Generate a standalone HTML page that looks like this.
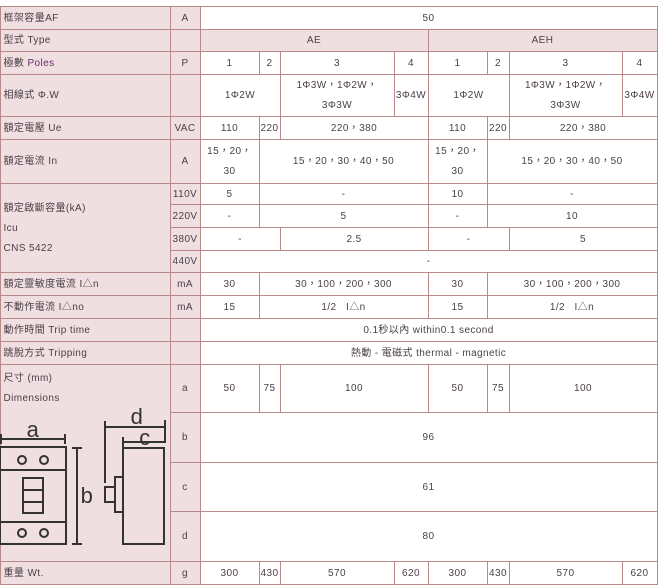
<!DOCTYPE html>
<html><head><meta charset="utf-8"><style>
body{margin:0;width:663px;height:585px;background:#fff;position:relative;overflow:hidden;font-family:"Liberation Sans","Noto Sans CJK TC",sans-serif;font-size:10px;color:#4a3f48;letter-spacing:0.4px}
.c{position:absolute;box-sizing:border-box;border:1px solid #b98989;margin:-0.5px;display:flex;align-items:center;justify-content:center;text-align:center;line-height:20px;background:#fff;padding-top:2px}
.p{background:#efdfe0}
.l{justify-content:flex-start;text-align:left;padding-left:3px}
</style></head><body>
<div id="t"></div>
<svg style="position:absolute;left:0;top:0" width="170" height="585">
<g stroke="#333" stroke-width="2" fill="none">
<line x1="1" y1="439" x2="65" y2="439"/><line x1="1" y1="434" x2="1" y2="444"/><line x1="65" y1="434" x2="65" y2="444"/>
<rect x="0" y="447" width="66" height="97"/>
<line x1="0" y1="470" x2="66" y2="470"/><line x1="0" y1="522" x2="66" y2="522"/>
<circle cx="22" cy="460" r="4"/><circle cx="44" cy="460" r="4"/><circle cx="22" cy="533" r="4"/><circle cx="44" cy="533" r="4"/>
<rect x="23" y="478" width="20" height="35"/><line x1="23" y1="490" x2="43" y2="490"/><line x1="23" y1="502" x2="43" y2="502"/>
<line x1="77" y1="448" x2="77" y2="544"/><line x1="72" y1="448" x2="82" y2="448"/><line x1="72" y1="544" x2="82" y2="544"/>
<line x1="105" y1="427" x2="165" y2="427"/><line x1="105" y1="421" x2="105" y2="483"/><line x1="165" y1="420" x2="165" y2="443"/>
<line x1="123" y1="442" x2="165" y2="442"/><line x1="123" y1="437" x2="123" y2="447"/>
<rect x="123" y="448" width="41" height="96"/>
<rect x="115" y="477" width="8" height="35"/><rect x="105" y="487" width="10" height="15"/>
</g>
<g font-family="Liberation Sans,sans-serif" font-size="22" fill="#333" text-anchor="middle">
<text x="33" y="437">a</text><text x="87" y="503">b</text><text x="137" y="424">d</text><text x="145" y="445">c</text>
</g>
</svg>
<script>
const cells=[
[0,6,170,29,"框架容量AF","p l"],[170,6,200,29,"A","p"],[200,6,657,29,"50",""],
[0,29,170,51,"型式&nbsp;Type","p l"],[170,29,200,51,"","p"],[200,29,428,51,"AE","p"],[428,29,657,51,"AEH","p"],
[0,51,170,74,"<span>極數&nbsp;<span style='color:#6b2a6b'>Poles</span></span>","p l"],[170,51,200,74,"P","p"],
[200,51,259,74,"1",""],[259,51,280,74,"2",""],[280,51,394,74,"3",""],[394,51,428,74,"4",""],[428,51,487,74,"1",""],[487,51,509,74,"2",""],[509,51,622,74,"3",""],[622,51,657,74,"4",""],
[0,74,170,116,"相線式&nbsp;Φ.W","p l"],[170,74,200,116,"","p"],[200,74,280,116,"1Φ2W",""],[280,74,394,116,"1Φ3W，1Φ2W，<br>3Φ3W",""],[394,74,428,116,"3Φ4W",""],[428,74,509,116,"1Φ2W",""],[509,74,622,116,"1Φ3W，1Φ2W，<br>3Φ3W",""],[622,74,657,116,"3Φ4W",""],
[0,116,170,139,"額定電壓&nbsp;Ue","p l"],[170,116,200,139,"VAC","p"],[200,116,259,139,"110",""],[259,116,280,139,"220",""],[280,116,428,139,"220，380",""],[428,116,487,139,"110",""],[487,116,509,139,"220",""],[509,116,657,139,"220，380",""],
[0,139,170,183,"額定電流&nbsp;In","p l"],[170,139,200,183,"A","p"],[200,139,259,183,"15，20，<br>30",""],[259,139,428,183,"15，20，30，40，50",""],[428,139,487,183,"15，20，<br>30",""],[487,139,657,183,"15，20，30，40，50",""],
[0,183,170,272,"<div>額定啟斷容量(kA)<br>Icu<br>CNS 5422</div>","p l"],
[170,183,200,204,"110V","p"],[200,183,259,204,"5",""],[259,183,428,204,"-",""],[428,183,487,204,"10",""],[487,183,657,204,"-",""],
[170,204,200,227,"220V","p"],[200,204,259,227,"-",""],[259,204,428,227,"5",""],[428,204,487,227,"-",""],[487,204,657,227,"10",""],
[170,227,200,250,"380V","p"],[200,227,280,250,"-",""],[280,227,428,250,"2.5",""],[428,227,509,250,"-",""],[509,227,657,250,"5",""],
[170,250,200,272,"440V","p"],[200,250,657,272,"-",""],
[0,272,170,295,"額定靈敏度電流&nbsp;I△n","p l"],[170,272,200,295,"mA","p"],[200,272,259,295,"30",""],[259,272,428,295,"30，100，200，300",""],[428,272,487,295,"30",""],[487,272,657,295,"30，100，200，300",""],
[0,295,170,318,"不動作電流&nbsp;I△no","p l"],[170,295,200,318,"mA","p"],[200,295,259,318,"15",""],[259,295,428,318,"1/2&nbsp;&nbsp; I△n",""],[428,295,487,318,"15",""],[487,295,657,318,"1/2&nbsp;&nbsp; I△n",""],
[0,318,170,341,"動作時間&nbsp;Trip time","p l"],[170,318,200,341,"","p"],[200,318,657,341,"0.1秒以內 within0.1 second",""],
[0,341,170,364,"跳脫方式&nbsp;Tripping","p l"],[170,341,200,364,"","p"],[200,341,657,364,"熱動 - 電磁式 thermal - magnetic",""],
[0,364,170,561,"<div style='position:absolute;top:4px;left:3px'>尺寸 (mm)<br>Dimensions</div>","p l"],
[170,364,200,412,"a","p"],[200,364,259,412,"50",""],[259,364,280,412,"75",""],[280,364,428,412,"100",""],[428,364,487,412,"50",""],[487,364,509,412,"75",""],[509,364,657,412,"100",""],
[170,412,200,462,"b","p"],[200,412,657,462,"96",""],
[170,462,200,511,"c","p"],[200,462,657,511,"61",""],
[170,511,200,561,"d","p"],[200,511,657,561,"80",""],
[0,561,170,584,"重量&nbsp;Wt.","p l"],[170,561,200,584,"g","p"],[200,561,259,584,"300",""],[259,561,280,584,"430",""],[280,561,394,584,"570",""],[394,561,428,584,"620",""],[428,561,487,584,"300",""],[487,561,509,584,"430",""],[509,561,622,584,"570",""],[622,561,657,584,"620",""]
];
let h="";for(const [x1,y1,x2,y2,t,k] of cells){h+=`<div class="c ${k}" style="left:${x1}px;top:${y1}px;width:${x2-x1+1}px;height:${y2-y1+1}px">${t}</div>`;}
document.getElementById("t").innerHTML=h;
document.body.appendChild(document.querySelector("svg"));
</script>
</body></html>
